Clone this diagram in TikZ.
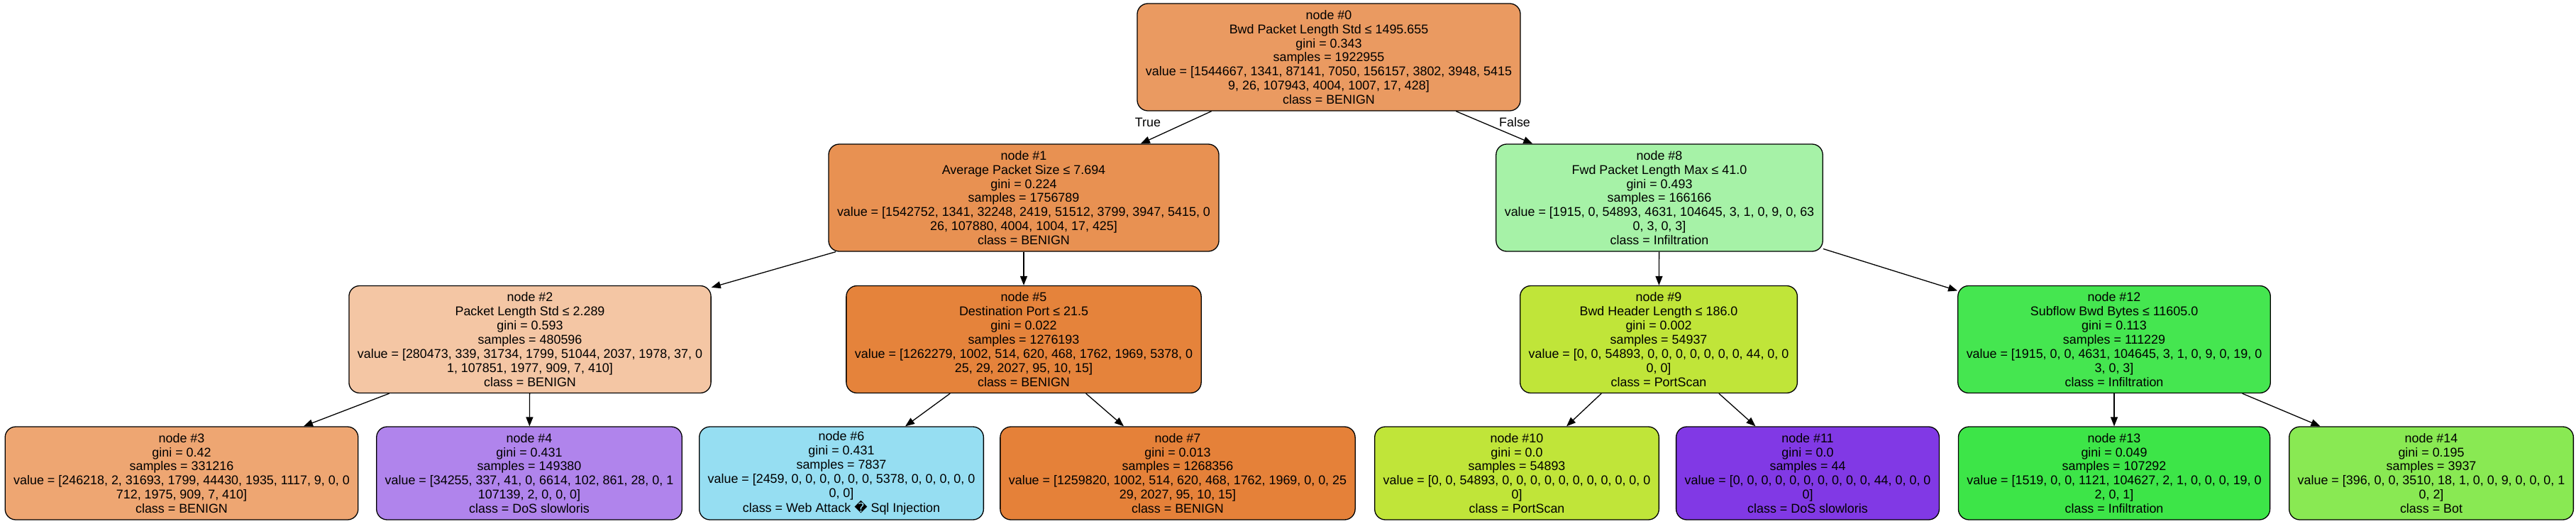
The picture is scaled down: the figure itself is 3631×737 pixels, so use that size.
\documentclass[tikz,border=0pt]{standalone}
\usepackage{fontspec}
\setmainfont{Liberation Sans}
\newfontfamily\dejavu{DejaVu Sans}
\usetikzlibrary{arrows.meta}

\definecolor{cz}{RGB}{234,154,97}
\definecolor{ca}{RGB}{232,145,82}
\definecolor{cb}{RGB}{244,198,164}
\definecolor{cc}{RGB}{238,166,114}
\definecolor{cd}{RGB}{176,132,236}
\definecolor{ce}{RGB}{229,131,59}
\definecolor{cf}{RGB}{150,222,242}
\definecolor{cg}{RGB}{229,129,57}
\definecolor{ch}{RGB}{166,242,167}
\definecolor{ci}{RGB}{192,229,57}
\definecolor{cj}{RGB}{129,57,229}
\definecolor{ck}{RGB}{69,230,80}
\definecolor{cl}{RGB}{61,229,72}
\definecolor{cm}{RGB}{137,233,83}

\begin{document}
\begin{tikzpicture}
        [x=1pt, y=-1pt,
        box/.style={rectangle, draw, rounded corners=15pt, line width=1.3pt, align=center,
            inner xsep=12pt, inner ysep=0pt, minimum height=151pt,
            font=\fontsize{17.9}{19.9}\selectfont},
        leaf/.style={box, minimum height=131pt},
        edge/.style={line width=1.3pt, -{Triangle[length=13pt, width=10pt]}},
        lbl/.style={font=\fontsize{17.9}{19.9}\selectfont, inner sep=0pt}]

        \useasboundingbox (0,0) rectangle (3631,737);

        \node[box, fill=cz] (n0) at (1873, 80.5) {node \#0\\Bwd Packet Length Std ≤ 1495.655\\gini = 0.343\\samples = 1922955\\value = [1544667, 1341, 87141, 7050, 156157, 3802, 3948, 5415\\9, 26, 107943, 4004, 1007, 17, 428]\\class = BENIGN};

        \node[box, fill=ca] (n1) at (1443, 278.5) {node \#1\\Average Packet Size ≤ 7.694\\gini = 0.224\\samples = 1756789\\value = [1542752, 1341, 32248, 2419, 51512, 3799, 3947, 5415, 0\\26, 107880, 4004, 1004, 17, 425]\\class = BENIGN};
        \node[box, fill=ch] (n8) at (2339, 278.5) {node \#8\\Fwd Packet Length Max ≤ 41.0\\gini = 0.493\\samples = 166166\\value = [1915, 0, 54893, 4631, 104645, 3, 1, 0, 9, 0, 63\\0, 3, 0, 3]\\class = Infiltration};

        \node[box, fill=cb] (n2) at (747, 478) {node \#2\\Packet Length Std ≤ 2.289\\gini = 0.593\\samples = 480596\\value = [280473, 339, 31734, 1799, 51044, 2037, 1978, 37, 0\\1, 107851, 1977, 909, 7, 410]\\class = BENIGN};
        \node[box, fill=ce] (n5) at (1443, 478) {node \#5\\Destination Port ≤ 21.5\\gini = 0.022\\samples = 1276193\\value = [1262279, 1002, 514, 620, 468, 1762, 1969, 5378, 0\\25, 29, 2027, 95, 10, 15]\\class = BENIGN};
        \node[box, fill=ci] (n9) at (2338, 478) {node \#9\\Bwd Header Length ≤ 186.0\\gini = 0.002\\samples = 54937\\value = [0, 0, 54893, 0, 0, 0, 0, 0, 0, 0, 44, 0, 0\\0, 0]\\class = PortScan};
        \node[box, fill=ck] (n12) at (2980, 478) {node \#12\\Subflow Bwd Bytes ≤ 11605.0\\gini = 0.113\\samples = 111229\\value = [1915, 0, 0, 4631, 104645, 3, 1, 0, 9, 0, 19, 0\\3, 0, 3]\\class = Infiltration};

        \node[leaf, fill=cc] (n3) at (256, 666.5) {node \#3\\gini = 0.42\\samples = 331216\\value = [246218, 2, 31693, 1799, 44430, 1935, 1117, 9, 0, 0\\712, 1975, 909, 7, 410]\\class = BENIGN};
        \node[leaf, fill=cd] (n4) at (746, 666.5) {node \#4\\gini = 0.431\\samples = 149380\\value = [34255, 337, 41, 0, 6614, 102, 861, 28, 0, 1\\107139, 2, 0, 0, 0]\\class = DoS slowloris};
        \node[leaf, fill=cf] (n6) at (1186, 666.5) {node \#6\\gini = 0.431\\samples = 7837\\value = [2459, 0, 0, 0, 0, 0, 0, 5378, 0, 0, 0, 0, 0\\0, 0]\\class = Web Attack {\dejavu\char"FFFD} Sql Injection};
        \node[leaf, fill=cg] (n7) at (1660, 666.5) {node \#7\\gini = 0.013\\samples = 1268356\\value = [1259820, 1002, 514, 620, 468, 1762, 1969, 0, 0, 25\\29, 2027, 95, 10, 15]\\class = BENIGN};
        \node[leaf, fill=ci] (n10) at (2138, 666.5) {node \#10\\gini = 0.0\\samples = 54893\\value = [0, 0, 54893, 0, 0, 0, 0, 0, 0, 0, 0, 0, 0, 0\\0]\\class = PortScan};
        \node[leaf, fill=cj] (n11) at (2548, 666.5) {node \#11\\gini = 0.0\\samples = 44\\value = [0, 0, 0, 0, 0, 0, 0, 0, 0, 0, 44, 0, 0, 0\\0]\\class = DoS slowloris};
        \node[leaf, fill=cl] (n13) at (2980, 666.5) {node \#13\\gini = 0.049\\samples = 107292\\value = [1519, 0, 0, 1121, 104627, 2, 1, 0, 0, 0, 19, 0\\2, 0, 1]\\class = Infiltration};
        \node[leaf, fill=cm] (n14) at (3427, 666.5) {node \#14\\gini = 0.195\\samples = 3937\\value = [396, 0, 0, 3510, 18, 1, 0, 0, 9, 0, 0, 0, 1\\0, 2]\\class = Bot};

        % split labels
        \node[lbl] (ltrue) at (1618, 172) {True};
        \node[lbl] (lfalse) at (2135, 172) {False};

        % tree edges
        \draw[edge] (n0) -- (n1);
        \draw[edge] (n0) -- (n8);
        \draw[edge] (n1) -- (n2);
        \draw[edge] (n1) -- (n5);
        \draw[edge] (n2) -- (n3);
        \draw[edge] (n2) -- (n4);
        \draw[edge] (n5) -- (n6);
        \draw[edge] (n5) -- (n7);
        \draw[edge] (n8) -- (n9);
        \draw[edge] (n8) -- (n12);
        \draw[edge] (n9) -- (n10);
        \draw[edge] (n9) -- (n11);
        \draw[edge] (n12) -- (n13);
        \draw[edge] (n12) -- (n14);

    \end{tikzpicture}
\end{document}
